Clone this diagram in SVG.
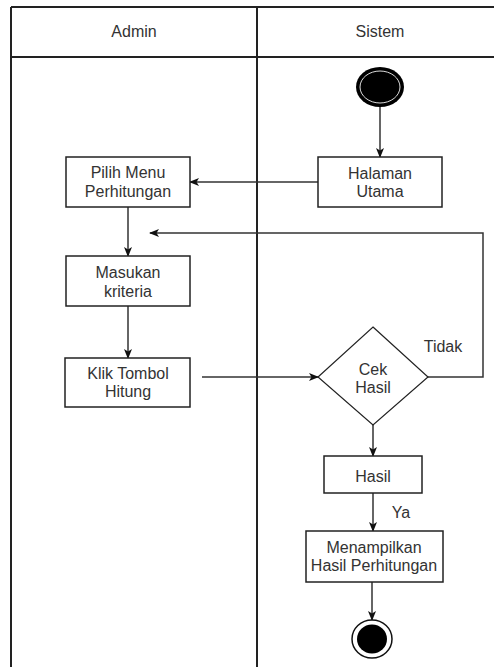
<svg xmlns="http://www.w3.org/2000/svg" width="494" height="667" viewBox="0 0 494 667">
  <defs>
    <marker id="arrow" viewBox="0 0 10 8" refX="9" refY="4" markerWidth="10" markerHeight="8" markerUnits="userSpaceOnUse" orient="auto">
      <path d="M0,0 L10,4 L0,8 L2.5,4 z" fill="#111"/>
    </marker>
    <style>
      .lane { stroke: #222; stroke-width: 2; fill: none; }
      .box { fill: #fff; stroke: #222; stroke-width: 1.5; }
      .lbl { font-family: "Liberation Sans", Arial, sans-serif; font-size: 16px; fill: #333; text-anchor: middle; }
      .edge { fill: none; stroke: #333; stroke-width: 1.5; marker-end: url(#arrow); }
    </style>
  </defs>
  <rect width="494" height="667" fill="#fff"/>

  <!-- swimlane frame -->
  <g id="swimlanes">
    <line class="lane" x1="11" y1="7" x2="494" y2="7"/>
    <line class="lane" x1="11" y1="57" x2="494" y2="57"/>
    <line class="lane" x1="11" y1="7" x2="11" y2="667"/>
    <line class="lane" x1="257" y1="7" x2="257" y2="667"/>
    <text class="lbl" x="134" y="37">Admin</text>
    <text class="lbl" x="380" y="37">Sistem</text>
  </g>

  <!-- connectors -->
  <g id="connectors">
    <line class="edge" x1="380" y1="107" x2="380" y2="157"/>
    <line class="edge" x1="318" y1="182" x2="190" y2="182"/>
    <line class="edge" x1="128" y1="207" x2="128" y2="256"/>
    <line class="edge" x1="128" y1="306" x2="128" y2="358"/>
    <line class="edge" x1="202" y1="377" x2="318" y2="377"/>
    <path class="edge" d="M428,377 H483 V233 H150"/>
    <line class="edge" x1="373" y1="425" x2="373" y2="456"/>
    <line class="edge" x1="373" y1="493" x2="373" y2="531"/>
    <line class="edge" x1="372" y1="582" x2="372" y2="620"/>
    <text class="lbl" x="443" y="352">Tidak</text>
    <text class="lbl" x="401" y="518">Ya</text>
  </g>

  <g id="start">
    <ellipse cx="380" cy="87" rx="24" ry="20" fill="#000"/>
    <ellipse cx="380" cy="87" rx="20" ry="16" fill="none" stroke="#ddd" stroke-width="1"/>
  </g>

  <g id="halaman-utama">
    <rect class="box" x="318" y="157" width="124" height="50"/>
    <text class="lbl" x="380" y="179">Halaman</text>
    <text class="lbl" x="380" y="197">Utama</text>
  </g>

  <g id="pilih-menu">
    <rect class="box" x="66" y="157" width="124" height="50"/>
    <text class="lbl" x="128" y="178">Pilih Menu</text>
    <text class="lbl" x="128" y="197">Perhitungan</text>
  </g>

  <g id="masukan-kriteria">
    <rect class="box" x="66" y="256" width="124" height="50"/>
    <text class="lbl" x="128" y="278">Masukan</text>
    <text class="lbl" x="128" y="297">kriteria</text>
  </g>

  <g id="klik-tombol">
    <rect class="box" x="65" y="358" width="125" height="49"/>
    <text class="lbl" x="128" y="379">Klik Tombol</text>
    <text class="lbl" x="128" y="397">Hitung</text>
  </g>

  <g id="cek-hasil">
    <polygon points="373,327 428,377 373,425 318,377" fill="#fff" stroke="#222" stroke-width="1.2"/>
    <text class="lbl" x="373" y="375">Cek</text>
    <text class="lbl" x="373" y="393">Hasil</text>
  </g>

  <g id="hasil">
    <rect class="box" x="324" y="456" width="98" height="37"/>
    <text class="lbl" x="373" y="482">Hasil</text>
  </g>

  <g id="menampilkan">
    <rect class="box" x="306" y="531" width="137" height="51"/>
    <text class="lbl" x="374" y="553">Menampilkan</text>
    <text class="lbl" x="374" y="571">Hasil Perhitungan</text>
  </g>

  <g id="end">
    <ellipse cx="372" cy="639" rx="20" ry="19" fill="#fff" stroke="#111" stroke-width="1.5"/>
    <ellipse cx="372" cy="639" rx="15" ry="14.5" fill="#000"/>
  </g>
</svg>
